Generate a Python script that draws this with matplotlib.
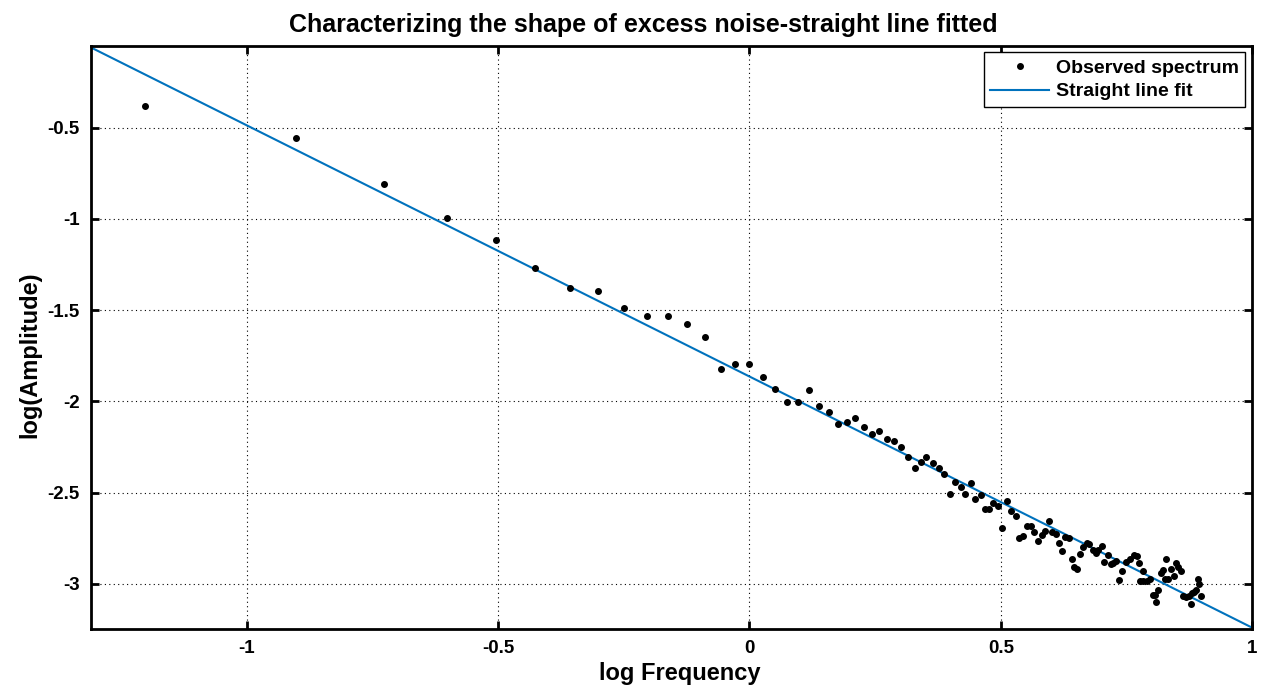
import numpy as np
import matplotlib
matplotlib.use("Agg")
from matplotlib import pyplot as plt

# observed spectrum (log10 frequency, log10 amplitude)
obs_x = [-1.202, -0.903, -0.727, -0.601, -0.505, -0.426, -0.358, -0.301, -0.249, -0.203,
         -0.162, -0.124, -0.089, -0.056, -0.028, 0.000, 0.026, 0.050, 0.074, 0.096,
         0.119, 0.138, 0.158, 0.177, 0.195, 0.210, 0.228, 0.243, 0.258, 0.274,
         0.288, 0.302, 0.315, 0.329, 0.342, 0.352, 0.366, 0.377, 0.387, 0.398,
         0.408, 0.421, 0.429, 0.440, 0.449, 0.460, 0.469, 0.477, 0.485, 0.495,
         0.503, 0.512, 0.521, 0.530, 0.536, 0.545, 0.552, 0.560, 0.567, 0.575,
         0.581, 0.588, 0.595, 0.602, 0.609, 0.615, 0.621, 0.628, 0.635, 0.641,
         0.646, 0.652, 0.658, 0.664, 0.671, 0.676, 0.683, 0.689, 0.694, 0.701,
         0.705, 0.713, 0.719, 0.723, 0.730, 0.735, 0.742, 0.750, 0.758, 0.765,
         0.770, 0.774, 0.777, 0.782, 0.783, 0.790, 0.796, 0.802, 0.807, 0.809,
         0.813, 0.818, 0.822, 0.827, 0.829, 0.833, 0.838, 0.844, 0.848, 0.853,
         0.859, 0.862, 0.868, 0.874, 0.879, 0.880, 0.884, 0.889, 0.893, 0.894,
         0.899]
obs_y = [-0.379, -0.555, -0.809, -0.997, -1.116, -1.268, -1.378, -1.394, -1.491, -1.533,
         -1.533, -1.575, -1.648, -1.824, -1.798, -1.798, -1.866, -1.935, -2.003, -2.003,
         -1.939, -2.023, -2.060, -2.125, -2.114, -2.089, -2.143, -2.180, -2.162, -2.209,
         -2.220, -2.253, -2.303, -2.367, -2.330, -2.308, -2.338, -2.365, -2.400, -2.506,
         -2.441, -2.469, -2.506, -2.447, -2.537, -2.515, -2.592, -2.592, -2.557, -2.574,
         -2.696, -2.546, -2.603, -2.628, -2.749, -2.736, -2.686, -2.686, -2.718, -2.765,
         -2.734, -2.712, -2.657, -2.719, -2.725, -2.776, -2.820, -2.744, -2.749, -2.862,
         -2.906, -2.917, -2.838, -2.800, -2.776, -2.785, -2.817, -2.831, -2.813, -2.793,
         -2.881, -2.844, -2.893, -2.888, -2.878, -2.977, -2.933, -2.881, -2.866, -2.840,
         -2.848, -2.886, -2.985, -2.932, -2.985, -2.985, -2.972, -3.063, -3.063, -3.103,
         -3.032, -2.939, -2.925, -2.976, -2.862, -2.976, -2.922, -2.958, -2.889, -2.910,
         -2.932, -3.067, -3.073, -3.069, -3.111, -3.051, -3.045, -3.032, -2.972, -3.003,
         -3.069]

# straight line fit (end points)
fit_x = [-1.31, 1.0]
fit_y = [-0.06, -3.241]

xticks = [-1, -0.5, 0, 0.5, 1]
yticks = [-3, -2.5, -2, -1.5, -1, -0.5]

plt.rcParams['font.family'] = ['Liberation Sans', 'DejaVu Sans']
plt.rcParams['font.weight'] = 'bold'

fig = plt.figure(figsize=(12.69, 6.92), dpi=100)
ax = fig.add_axes([0.0717, 0.0906, 0.915, 0.8434])

ax.plot(obs_x, obs_y, 'k.', markersize=8, label='Observed spectrum', zorder=3)
ax.plot(fit_x, fit_y, color='#0072BD', linewidth=1.5, label='Straight line fit', zorder=2)

ax.set_xlim(-1.31, 1.0)
ax.set_ylim(-3.25, -0.05)
ax.set_xticks(xticks)
ax.set_xticklabels(['-1', '-0.5', '0', '0.5', '1'])
ax.set_yticks(yticks)
ax.set_yticklabels(['-3', '-2.5', '-2', '-1.5', '-1', '-0.5'])
ax.tick_params(direction='in', length=6, width=2, top=True, right=True,
               labelsize=13.5, pad=8)
for lab in ax.get_xticklabels() + ax.get_yticklabels():
    lab.set_fontweight('bold')
for s in ax.spines.values():
    s.set_linewidth(2)
ax.grid(True, linestyle=(0, (1, 3)), color='black', linewidth=0.8)

ax.set_xlabel('log Frequency', fontsize=17, fontweight='bold')
ax.xaxis.set_label_coords(0.507, -0.056)
ax.set_ylabel('log(Amplitude)', fontsize=17, fontweight='bold')
ax.yaxis.set_label_coords(-0.043, 0.47)
ax.set_title('Characterizing the shape of excess noise-straight line fitted',
             fontsize=18, fontweight='bold', pad=10, x=0.476)

leg = ax.legend(loc='upper right', fancybox=False, edgecolor='black', framealpha=1,
                prop={'weight': 'bold', 'size': 14}, borderaxespad=0.35,
                handlelength=3.0, handletextpad=0.35, borderpad=0.35, labelspacing=0.3)
leg.get_frame().set_linewidth(1)

fig.savefig('out.png', dpi=100)
